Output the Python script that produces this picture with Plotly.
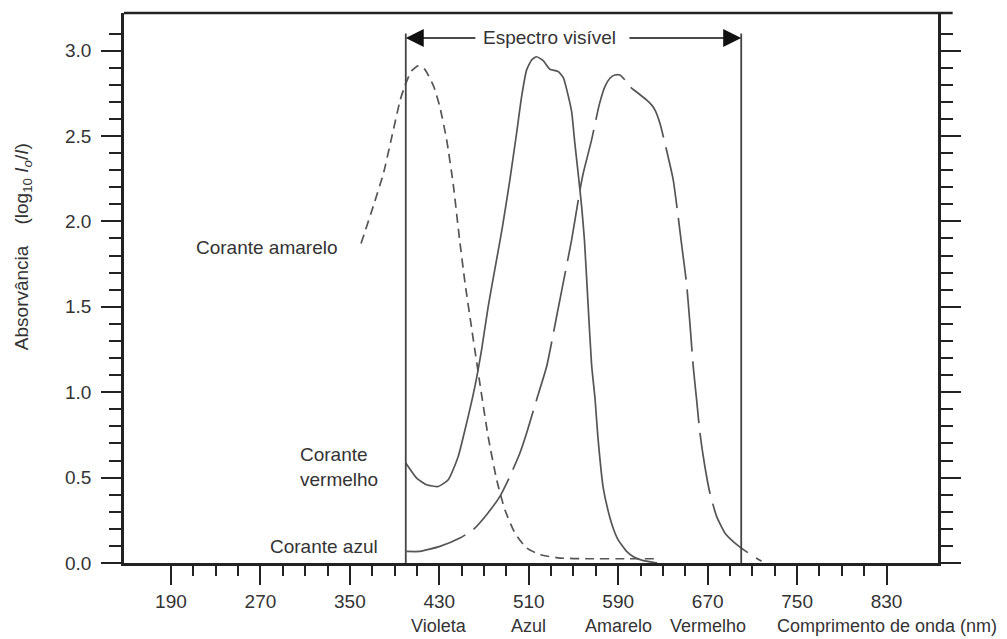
import plotly.graph_objects as go

# ---------------- data ----------------
# Corante amarelo (short dashes)
wl_amarelo = [360, 371, 380, 387, 395, 399, 405, 411, 417, 425, 430.5, 436.5, 442.4, 448, 453,
              459, 466.3, 473.7, 481.2, 488.7, 497.6, 508, 520, 538, 562, 600, 627]
abs_amarelo = [1.87, 2.09, 2.28, 2.48, 2.71, 2.79, 2.88, 2.91, 2.89, 2.79, 2.67, 2.48, 2.22, 1.90, 1.64,
               1.37, 1.05, 0.74, 0.49, 0.31, 0.176, 0.088, 0.049, 0.029, 0.025, 0.025, 0.025]

# Corante vermelho (solid)
wl_vermelho = [400, 409.7, 418.6, 429, 438, 446.9, 454.4, 461.8, 467.8, 473.7, 480.5, 486, 493.1,
               499.1, 503.6, 508.1, 512.5, 517, 522.9, 528.9, 536.4, 541, 544, 548.4, 551, 554.2,
               557.3, 559.8, 563, 566.2, 569.3, 571.8, 576.6, 582.6, 586, 590, 597.5, 604, 612.4, 625]
abs_vermelho = [0.585, 0.497, 0.458, 0.448, 0.487, 0.624, 0.819, 1.033, 1.248, 1.501, 1.75, 1.95, 2.243,
                2.516, 2.73, 2.887, 2.945, 2.964, 2.941, 2.891, 2.877, 2.84, 2.77, 2.64, 2.47, 2.28,
                2.087, 1.89, 1.52, 1.16, 0.96, 0.74, 0.44, 0.265, 0.195, 0.135, 0.068, 0.035, 0.014, 0.0]

# Corante azul (long dashes)
wl_azul = [400.7, 412.7, 430.5, 448.4, 460.3, 472.3, 484.2, 493.1, 502.1, 508.1, 517, 526, 534.9,
           542.3, 548.3, 555.7, 558.7, 566.2, 573, 578.1, 582.6, 587, 591.5, 596, 600.4, 607.9, 615.3,
           619.8, 622.8, 627.3, 633.2, 639.2, 643.6, 646.6, 651.1, 654.1, 657.1, 660.1, 663.1, 667.5,
           672, 678, 685.4, 694.4, 706.3, 718.2]
abs_azul = [0.068, 0.068, 0.097, 0.146, 0.195, 0.283, 0.39, 0.507, 0.644, 0.761, 0.956, 1.15, 1.443,
            1.69, 1.89, 2.18, 2.282, 2.477, 2.682, 2.789, 2.838, 2.857, 2.857, 2.828, 2.789, 2.75, 2.711,
            2.682, 2.653, 2.575, 2.418, 2.243, 2.028, 1.87, 1.638, 1.404, 1.15, 0.956, 0.761, 0.565,
            0.41, 0.273, 0.176, 0.117, 0.059, 0.01]

x_major = [190, 270, 350, 430, 510, 590, 670, 750, 830]
x_minor = [v for v in range(190, 831, 20) if v not in x_major]
x_color_labels = {430: "Violeta", 510: "Azul", 590: "Amarelo", 670: "Vermelho",
                  830: "Comprimento de onda (nm)"}
y_major = [0.0, 0.5, 1.0, 1.5, 2.0, 2.5, 3.0]
y_major_text = ["0.0", "0.5", "1.0", "1.5", "2.0", "2.5", "3.0"]
y_minor = [round(i * 0.1, 1) for i in range(0, 32) if round(i * 0.1, 1) not in y_major]
visible_range = [400, 700]

# ---------------- styling ----------------
FONT = "Liberation Sans, Arial, sans-serif"
TXT = "#333333"
CURVE = "#555555"
FS = 19

fig = go.Figure()
fig.add_trace(go.Scatter(x=wl_amarelo, y=abs_amarelo, mode="lines",
                         line=dict(color=CURVE, width=1.7, dash="9px,6px", shape="spline", smoothing=0.5),
                         hoverinfo="skip", showlegend=False))
fig.add_trace(go.Scatter(x=wl_vermelho, y=abs_vermelho, mode="lines",
                         line=dict(color=CURVE, width=1.7, shape="spline", smoothing=0.5),
                         hoverinfo="skip", showlegend=False))
fig.add_trace(go.Scatter(x=wl_azul, y=abs_azul, mode="lines",
                         line=dict(color=CURVE, width=1.7, dash="62px,10px", shape="spline", smoothing=0.5),
                         hoverinfo="skip", showlegend=False))

# vertical lines bounding the visible spectrum
for xv in visible_range:
    fig.add_shape(type="line", x0=xv, x1=xv, y0=0, y1=3.10, xref="x", yref="y",
                  line=dict(color="#444444", width=1.8))

# top frame line
fig.add_shape(type="line", x0=0, x1=1.018, y0=1, y1=1, xref="paper", yref="paper",
              line=dict(color="#222222", width=2.5))

arrow_y = 3.074
# double arrow "Espectro visível"
fig.add_annotation(x=visible_range[0], y=arrow_y, ax=463.6, ay=arrow_y, xref="x", yref="y",
                   axref="x", ayref="y", text="", showarrow=True, arrowhead=2, arrowsize=2.4,
                   arrowwidth=1.5, arrowcolor="#111111")
fig.add_annotation(x=visible_range[1], y=arrow_y, ax=598.7, ay=arrow_y, xref="x", yref="y",
                   axref="x", ayref="y", text="", showarrow=True, arrowhead=2, arrowsize=2.4,
                   arrowwidth=1.5, arrowcolor="#111111")
fig.add_annotation(x=528.9, y=arrow_y, xref="x", yref="y", text="Espectro visível", showarrow=False,
                   font=dict(family=FONT, size=FS, color=TXT))

# curve labels
fig.add_annotation(x=341, y=1.845, xref="x", yref="y", text="Corante amarelo", showarrow=False,
                   xanchor="right", font=dict(family=FONT, size=FS, color=TXT))
fig.add_annotation(x=303.6, y=0.634, xref="x", yref="y", text="Corante", showarrow=False,
                   xanchor="left", font=dict(family=FONT, size=FS, color=TXT))
fig.add_annotation(x=303.6, y=0.487, xref="x", yref="y", text="vermelho", showarrow=False,
                   xanchor="left", font=dict(family=FONT, size=FS, color=TXT))
fig.add_annotation(x=377, y=0.094, xref="x", yref="y", text="Corante azul", showarrow=False,
                   xanchor="right", font=dict(family=FONT, size=FS, color=TXT))

# colour names under the x tick labels
for xv, label in x_color_labels.items():
    fig.add_annotation(x=xv, y=0, xref="x", yref="paper", text=label, showarrow=False,
                       yanchor="middle", yshift=-63, borderpad=0,
                       font=dict(family=FONT, size=18, color=TXT))

# y-axis title
fig.add_annotation(x=-0.142, y=0.575, xref="paper", yref="paper",
                   text="Absorvância\u00a0\u00a0\u00a0\u00a0(log<sub>10</sub> <i>I</i><sub><i>o</i></sub>/<i>I</i>)",
                   textangle=-90, showarrow=False, font=dict(family=FONT, size=19, color=TXT))

fig.update_layout(
    width=1007, height=639,
    margin=dict(l=124, r=69, t=13, b=76),
    paper_bgcolor="white", plot_bgcolor="white",
    font=dict(family=FONT, size=FS, color=TXT),
    xaxis=dict(range=[148, 876], showgrid=False, zeroline=False,
               showline=True, linecolor="#222222", linewidth=2.5,
               tickmode="array", tickvals=x_major, ticktext=[str(v) for v in x_major],
               ticks="outside", ticklen=19, tickwidth=2, tickcolor="#222222",
               ticklabelstandoff=0,
               minor=dict(tickmode="array", tickvals=x_minor, ticks="outside", ticklen=10,
                          tickwidth=2, tickcolor="#222222", showgrid=False),
               tickfont=dict(family=FONT, size=FS, color=TXT)),
    yaxis=dict(range=[0, 3.22], showgrid=False, zeroline=False,
               showline=True, linecolor="#222222", linewidth=2.5, mirror="ticks",
               tickmode="array", tickvals=y_major, ticktext=y_major_text,
               ticks="outside", ticklen=20, tickwidth=2, tickcolor="#222222",
               ticklabelstandoff=6,
               minor=dict(tickmode="array", tickvals=y_minor, ticks="outside", ticklen=12,
                          tickwidth=2, tickcolor="#222222", showgrid=False),
               tickfont=dict(family=FONT, size=FS, color=TXT)),
)

fig.write_html("out.html")
